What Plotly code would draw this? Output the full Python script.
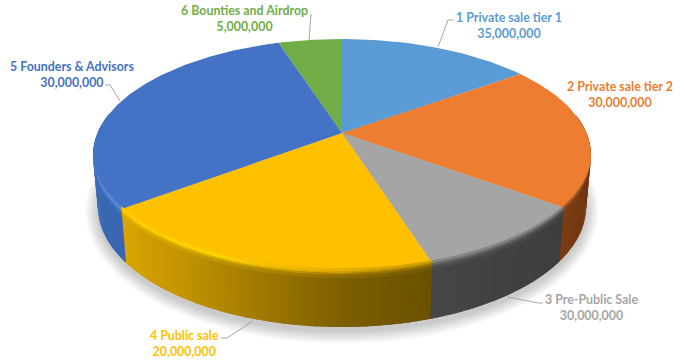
import math
import plotly.graph_objects as go

# ---- data ----
categories = ["1 Private sale tier 1", "2 Private sale tier 2", "3 Pre-Public Sale",
              "4 Public sale", "5 Founders & Advisors", "6 Bounties and Airdrop"]
amounts = [35000000, 30000000, 30000000, 20000000, 30000000, 5000000]
# on-screen share of the rim (percent) of each slice
rim_shares = [12.7, 19.8, 11.6, 23.2, 28.6, 4.1]

# ---- style ----
face_colors = ["#5B9BD5", "#ED7D31", "#A5A5A5", "#FFC000", "#4472C4", "#70AD47"]
wall_stops = {
    1: [(70, "#6A3310"), (100, "#6F3511"), (117, "#7D3D14")],
    2: [(117, "#3E3E3E"), (140, "#414141"), (159, "#464648")],
    3: [(159, "#6A5000"), (180, "#7D5F00"), (200, "#A17A00"), (220, "#C39400"), (243, "#DCA600")],
    4: [(243, "#3A66B0"), (265, "#3A68B4"), (290, "#3F70C0")],
}
rim_stops = {
    1: [(70, "#A85820"), (117, "#8A4A1C")],
    2: [(117, "#6A6A6A"), (159, "#6A6A6A")],
    3: [(159, "#A07A00"), (185, "#DDA800"), (210, "#FFD800"), (243, "#FFD000")],
    4: [(243, "#5F8FE0"), (290, "#5F8FE0")],
}
CX, CY, RX, RY = 342.0, 155.0, 249.0, 116.0
BCX, BCY, BRX, BRY = 342.0, 207.0, 244.0, 120.0
APEX = (342.0, 133.0)
DEPTH = 52.0

def rgb(h):
    h = h.lstrip("#")
    return [int(h[i:i + 2], 16) for i in (0, 2, 4)]

def mix(a, b, f):
    return [a[i] + (b[i] - a[i]) * f for i in range(3)]

def css(c):
    return "rgb(%d,%d,%d)" % tuple(round(v) for v in c)

def lookup(stops, t):
    if t <= stops[0][0]:
        return rgb(stops[0][1])
    for (t0, c0), (t1, c1) in zip(stops, stops[1:]):
        if t <= t1:
            return mix(rgb(c0), rgb(c1), (t - t0) / (t1 - t0))
    return rgb(stops[-1][1])

def top(t):
    a = math.radians(t)
    return CX + RX * math.sin(a), CY - RY * math.cos(a)

def bot(t):
    a = math.radians(t)
    return BCX + BRX * math.sin(a), BCY - BRY * math.cos(a)

def at(t, d):
    p, q = top(t), bot(t)
    f = d / DEPTH
    return p[0] + (q[0] - p[0]) * f, p[1] + (q[1] - p[1]) * f

fig = go.Figure()

def poly(pts, color):
    xs = [p[0] for p in pts] + [pts[0][0]]
    ys = [p[1] for p in pts] + [pts[0][1]]
    fig.add_trace(go.Scatter(x=xs, y=ys, mode="lines", fill="toself", fillcolor=color,
                             line=dict(width=0), hoverinfo="skip", showlegend=False))

# soft ground shadow
for k in range(13, 0, -1):
    pts = [(BCX + (BRX + k) * math.sin(math.radians(a)),
            BCY + 4 - (BRY + k) * math.cos(math.radians(a))) for a in range(0, 360, 3)]
    poly(pts, "rgba(0,0,0,0.014)")

# slice boundaries
edges = [0.0]
for s in rim_shares:
    edges.append(edges[-1] + s * 360.0 / sum(rim_shares))

def slice_at(t):
    for i in range(len(rim_shares)):
        if edges[i] <= t < edges[i + 1]:
            return i
    return len(rim_shares) - 1

# outer wall, in thin strips for the lighting gradient
DT = 1.0
strips = []
t = 70.0
while t < 290.0:
    lo, hi = t, min(t + DT, 290.0)
    for e in edges:
        if lo < e < hi:
            hi = e
    strips.append((lo, hi))
    t = hi

for lo, hi in strips:
    mid = (lo + hi) / 2
    i = slice_at(mid)
    over = hi + 0.8
    poly([top(lo), top(over), bot(over), bot(lo)], css(lookup(wall_stops[i], mid)))

# top face
for i in range(len(rim_shares)):
    n = max(2, int(edges[i + 1] - edges[i]))
    arc = [top(edges[i] + (edges[i + 1] - edges[i]) * j / n) for j in range(n + 1)]
    poly([APEX] + arc, face_colors[i])

# rounded bevel along the rim
bands = [(-2.5, 0.0, "face", 0.55), (0.0, 1.8, "rim", 1.0), (1.8, 3.6, "wall", 0.5), (3.6, 6.5, "wall", 0.82)]
for lo, hi in strips:
    if hi <= 92 or lo >= 268:
        continue
    mid = (lo + hi) / 2
    i = slice_at(mid)
    over = hi + 0.8
    r = lookup(rim_stops[i], mid)
    w = lookup(wall_stops[i], mid)
    f = rgb(face_colors[i])
    for d0, d1, kind, m in bands:
        if kind == "face":
            c = mix(f, r, m)
        elif kind == "rim":
            c = r
        else:
            c = mix(r, w, m)
        poly([at(lo, d0), at(over, d0), at(over, d1), at(lo, d1)], css(c))

# leader lines
leaders = [
    [(438, 47), (448, 20), (454, 20)],
    [(507, 297), (538, 303), (543, 303)],
    [(253, 321), (227, 338), (221, 338)],
    [(120, 101), (110, 85), (105, 85)],
    [(309, 40), (311, 14)],
]
for seg in leaders:
    fig.add_trace(go.Scatter(x=[p[0] for p in seg], y=[p[1] for p in seg], mode="lines",
                             line=dict(color="#A6A6A6", width=1), hoverinfo="skip", showlegend=False))

# data labels
label_xy = [(509, 25), (620, 94), (591, 307), (184, 343), (72, 74), (244, 18)]
for name, val, col, (lx, ly) in zip(categories, amounts, face_colors, label_xy):
    fig.add_annotation(x=lx, y=ly, xref="x", yref="y", showarrow=False, align="center",
                       text=f"{name}<br>{val:,}",
                       font=dict(family="Lato", size=12.4, color=col, weight="bold"))

fig.update_layout(
    width=685, height=364, autosize=False,
    margin=dict(l=0, r=0, t=0, b=0),
    paper_bgcolor="white", plot_bgcolor="white",
    xaxis=dict(range=[0, 685], visible=False, fixedrange=True),
    yaxis=dict(range=[364, 0], visible=False, fixedrange=True),
    showlegend=False,
)
fig.write_html("out.html", config={"displayModeBar": False},
               post_script="document.body.style.margin='0';")
